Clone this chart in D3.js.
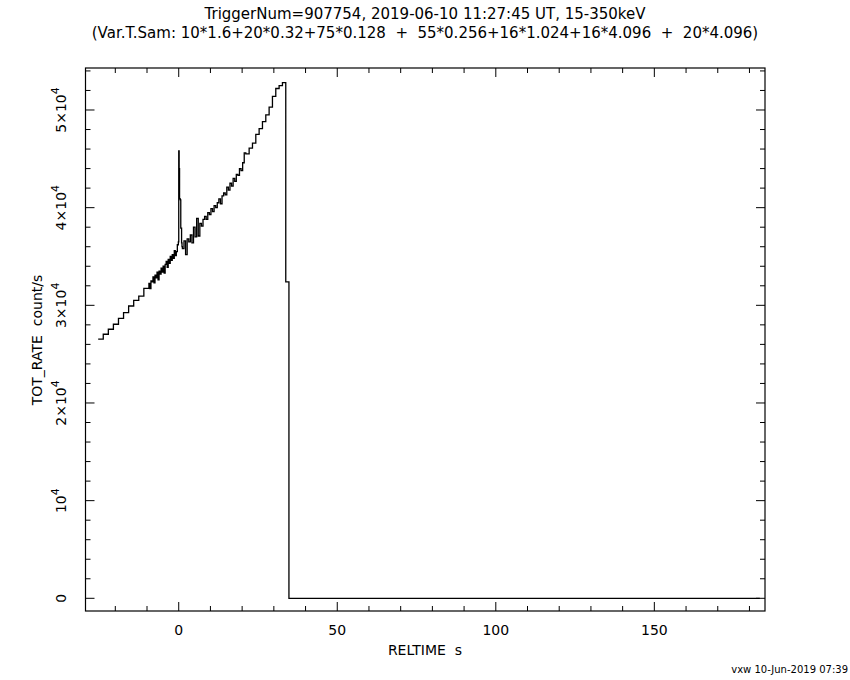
<!DOCTYPE html>
<html><head><meta charset="utf-8">
<script src="https://cdn.jsdelivr.net/npm/d3@7"></script>
<style>body{margin:0;background:#fff}text{font-family:"DejaVu Sans",sans-serif;fill:#000}</style>
</head><body><svg id="c" width="850" height="680"></svg>
<script>
const startTime = -25.4;
const segCounts = [10, 29, 10, 40, 12, 1, 1];
const segWidths = [1.6, 0.32, 0.128, 0.5, 1.05, 1.0, 148.5];
const rates = [
 26530,27040,27550,28060,28670,29250,29930,30510,30950,31730,
 32250,31700,32500,32400,32900,32300,33100,32800,33400,32600,33500,33200,33800,33400,34000,33300,34200,34500,33900,34700,34300,35000,34600,35200,34800,35600,35100,35500,36200,
 36500,45800,44000,40900,40900,40800,37900,37900,36400,36000,
 35800,36600,35200,36800,36500,37200,36400,38000,37000,38900,37100,38400,38100,38800,39100,38800,39500,39300,39900,39600,40200,40000,40500,40900,40400,41200,41500,41300,42100,41800,42500,42200,43000,42700,43400,43300,44000,43800,44600,45600,
 45500,46100,46600,47500,48100,48800,49500,50300,51400,52200,52500,52800,
 32400,
 0
];
const xTicks = [0,50,100,150];
const yTicks = [0,10000,20000,30000,40000,50000];
const yTickBase = ["0","10","2×10","3×10","4×10","5×10"];
const yTickExp = ["","4","4","4","4","4"];

const pts = [];
let t = startTime, k = 0;
segCounts.forEach((n,i)=>{ for(let j=0;j<n;j++){ pts.push({t0:t,t1:t+segWidths[i],v:rates[k++]}); t+=segWidths[i]; } });

const svg = d3.select("#c");
const L=85.5,R=765,T=68,B=611;
const x = d3.scaleLinear().domain([-29.4,184.9]).range([L,R]);
const y = d3.scaleLinear().domain([-1300,54300]).range([B,T]);

svg.append("rect").attr("x",L).attr("y",T).attr("width",R-L).attr("height",B-T).attr("fill","none").attr("stroke","#000").attr("stroke-width",1.2);

const g = svg.append("g").attr("stroke","#000").attr("stroke-width",1);
d3.range(-20,181,10).forEach(v=>{
  const len = v%50===0?9:5;
  g.append("line").attr("x1",x(v)).attr("x2",x(v)).attr("y1",B).attr("y2",B-len);
  g.append("line").attr("x1",x(v)).attr("x2",x(v)).attr("y1",T).attr("y2",T+len);
});
d3.range(0,54001,2000).forEach(v=>{
  const len = v%10000===0?9:5;
  g.append("line").attr("y1",y(v)).attr("y2",y(v)).attr("x1",L).attr("x2",L+len);
  g.append("line").attr("y1",y(v)).attr("y2",y(v)).attr("x1",R).attr("x2",R-len);
});
xTicks.forEach(v=>svg.append("text").attr("x",x(v)).attr("y",B+24).attr("text-anchor","middle").attr("font-size",14).text(v));
yTicks.forEach((v,i)=>{
  const tx = svg.append("text").attr("transform",`translate(${L-20},${y(v)}) rotate(-90)`).attr("text-anchor","middle").attr("font-size",14);
  tx.append("tspan").text(yTickBase[i]);
  if(yTickExp[i]) tx.append("tspan").attr("dy",-7).attr("font-size",11).text(yTickExp[i]);
});

const path = [];
pts.forEach(p=>{ path.push([x(p.t0),y(p.v)]); path.push([x(p.t1),y(p.v)]); });
svg.append("path").attr("d",d3.line()(path)).attr("fill","none").attr("stroke","#000").attr("stroke-width",1.3);

svg.append("text").attr("x",425).attr("y",19).attr("text-anchor","middle").attr("font-size",15).text("TriggerNum=907754, 2019-06-10 11:27:45 UT, 15-350keV");
svg.append("text").attr("x",425).attr("y",38).attr("text-anchor","middle").attr("font-size",15).attr("xml:space","preserve").text("(Var.T.Sam: 10*1.6+20*0.32+75*0.128  +  55*0.256+16*1.024+16*4.096  +  20*4.096)");
svg.append("text").attr("x",425).attr("y",655).attr("text-anchor","middle").attr("font-size",14).attr("xml:space","preserve").text("RELTIME  s");
svg.append("text").attr("transform","translate(42,340) rotate(-90)").attr("text-anchor","middle").attr("font-size",14).attr("xml:space","preserve").text("TOT_RATE  count/s");
svg.append("text").attr("x",848).attr("y",673).attr("text-anchor","end").attr("font-size",10).text("vxw 10-Jun-2019 07:39");
</script></body></html>
